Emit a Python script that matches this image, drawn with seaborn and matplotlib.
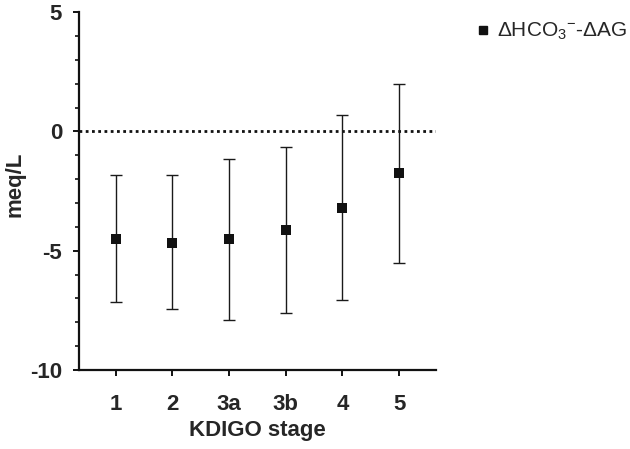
import matplotlib
matplotlib.use('Agg')
import matplotlib.pyplot as plt
import seaborn as sns
import numpy as np
import pandas as pd
from matplotlib.ticker import MultipleLocator
from matplotlib.lines import Line2D

stages = ['1', '2', '3a', '3b', '4', '5']
means = [-4.49, -4.66, -4.52, -4.13, -3.19, -1.76]
upper = [-1.81, -1.84, -1.16, -0.66, 0.70, 2.00]
lower = [-7.14, -7.45, -7.89, -7.60, -7.08, -5.51]
series_label = r'$\Delta$HCO$_3$$^{-}$-$\Delta$AG'

sns.set_style('ticks')
plt.rcParams['font.family'] = ['Liberation Sans', 'DejaVu Sans']
plt.rcParams['mathtext.fontset'] = 'custom'
plt.rcParams['mathtext.rm'] = 'Liberation Sans'
plt.rcParams['mathtext.it'] = 'Liberation Sans:italic'
plt.rcParams['axes.unicode_minus'] = False

df = pd.DataFrame({'stage': stages, 'mean': means, 'upper': upper, 'lower': lower})

fig = plt.figure(figsize=(6.3, 4.49), dpi=100)
ax = fig.add_axes([0.125, 0.176, 0.567, 0.797])

xpos = np.arange(len(stages))
yerr = [df['mean'] - df['lower'], df['upper'] - df['mean']]
ax.errorbar(xpos, df['mean'], yerr=yerr, fmt='none', ecolor='#1a1a1a',
            elinewidth=1.0, capsize=4, capthick=1.0, zorder=2)
sns.scatterplot(x=xpos, y=df['mean'], marker='s', s=55, color='#111111',
                edgecolor='#111111', linewidth=0, ax=ax, zorder=3, legend=False)

ax.axhline(0, color='#111111', lw=2, linestyle=(0, (1, 1.25)), zorder=1)

ax.set_xlim(-0.65, 5.65)
ax.set_ylim(-10, 5)
ax.set_xticks(xpos)
ax.set_xticklabels(stages)
ax.yaxis.set_major_locator(MultipleLocator(5))
ax.yaxis.set_minor_locator(MultipleLocator(1))

for side in ['top', 'right']:
    ax.spines[side].set_visible(False)
for side in ['left', 'bottom']:
    ax.spines[side].set_linewidth(1.6)
    ax.spines[side].set_color('#111111')

ax.tick_params(axis='both', which='major', length=4, width=1.4, color='#111111',
               labelsize=16, pad=8)
ax.tick_params(axis='y', which='minor', length=3, width=1.2, color='#111111')
ax.tick_params(axis='x', which='major', pad=13)
for lab in ax.get_xticklabels() + ax.get_yticklabels():
    lab.set_fontweight('bold')

ax.set_xlabel('KDIGO stage', fontsize=16, fontweight='bold', labelpad=4)
ax.set_ylabel('meq/L', fontsize=16, fontweight='bold')
ax.yaxis.set_label_coords(-0.15, 0.52)

handle = Line2D([], [], marker='s', linestyle='none', color='#111111', markersize=6)
fig.legend([handle], [series_label], loc='upper left', bbox_to_anchor=(0.72, 0.995),
           frameon=False, fontsize=15, handletextpad=0.2, handlelength=1.0)

fig.savefig('out.png', dpi=100)
